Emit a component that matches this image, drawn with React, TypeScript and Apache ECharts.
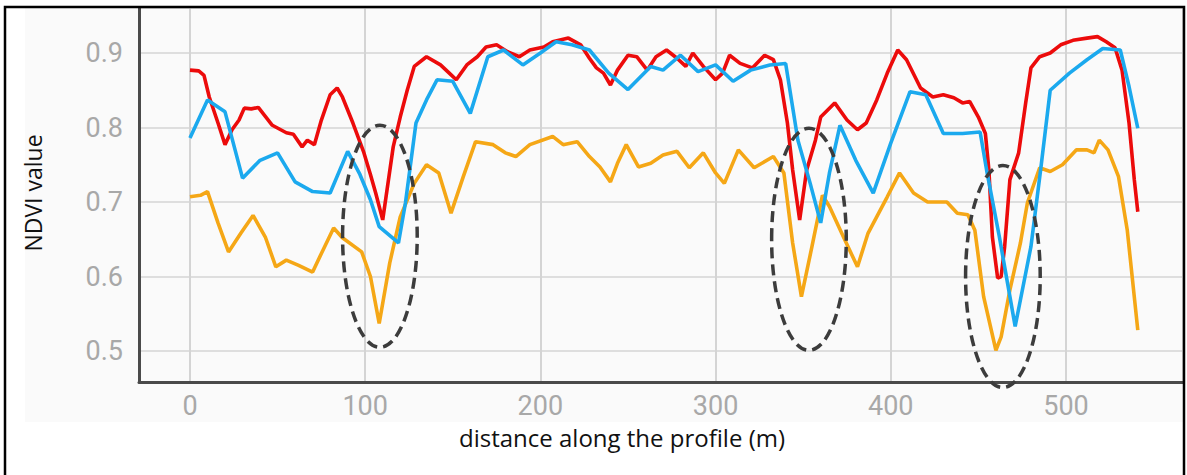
import React, { useEffect, useRef } from "react";
import * as echarts from "echarts";

// ---- data (distance in m, NDVI value) ----
const redDistance = [0, 5, 8, 11, 16, 20, 24, 28, 31, 35, 39, 43, 47, 51, 55, 59, 64, 67, 71, 75, 80, 84, 87, 93, 99, 103, 106, 110, 116, 120, 124, 128, 135, 143, 148, 152, 158, 164, 169, 175, 181, 188, 194, 202, 207, 216, 223, 228, 232, 236, 240, 244, 250, 255, 261, 266, 272, 278, 283, 287, 293, 300, 304, 308, 314, 321, 328, 333, 337, 341, 344, 348, 352, 357, 360, 368, 375, 381, 386, 392, 398, 404, 409, 417, 424, 430, 436, 441, 445, 450, 454, 456, 458, 461, 463, 465, 468, 473, 477, 480, 485, 491, 497, 504, 512, 518, 523, 528, 532, 536, 539, 541];
const redNdvi = [0.877, 0.876, 0.870, 0.841, 0.806, 0.777, 0.797, 0.810, 0.826, 0.825, 0.827, 0.815, 0.803, 0.798, 0.793, 0.791, 0.774, 0.783, 0.777, 0.810, 0.844, 0.853, 0.841, 0.806, 0.768, 0.737, 0.712, 0.676, 0.774, 0.814, 0.850, 0.882, 0.895, 0.884, 0.873, 0.864, 0.884, 0.895, 0.908, 0.911, 0.902, 0.895, 0.904, 0.908, 0.915, 0.920, 0.911, 0.893, 0.880, 0.873, 0.857, 0.877, 0.897, 0.895, 0.877, 0.895, 0.904, 0.893, 0.882, 0.900, 0.882, 0.864, 0.873, 0.897, 0.886, 0.880, 0.897, 0.891, 0.864, 0.806, 0.743, 0.676, 0.743, 0.783, 0.814, 0.833, 0.810, 0.797, 0.806, 0.837, 0.873, 0.904, 0.891, 0.853, 0.841, 0.844, 0.840, 0.833, 0.835, 0.814, 0.792, 0.743, 0.653, 0.598, 0.600, 0.640, 0.730, 0.766, 0.833, 0.880, 0.895, 0.900, 0.911, 0.917, 0.920, 0.922, 0.915, 0.907, 0.877, 0.806, 0.730, 0.687];

const blueDistance = [0, 10, 20, 30, 40, 50, 60, 70, 80, 90, 97, 103, 108, 119, 123, 129, 135, 141, 150, 160, 170, 179, 190, 200, 209, 218, 228, 239, 250, 263, 270, 280, 290, 300, 310, 320, 331, 340, 347, 354, 360, 365, 371, 380, 390, 400, 411, 420, 430, 441, 451, 455, 462, 471, 480, 486, 491, 502, 512, 521, 531, 536, 541];
const blueNdvi = [0.786, 0.837, 0.821, 0.732, 0.756, 0.766, 0.727, 0.714, 0.712, 0.768, 0.737, 0.703, 0.667, 0.645, 0.699, 0.806, 0.837, 0.864, 0.862, 0.819, 0.895, 0.904, 0.884, 0.900, 0.915, 0.911, 0.904, 0.873, 0.851, 0.882, 0.877, 0.897, 0.875, 0.884, 0.862, 0.877, 0.884, 0.886, 0.783, 0.725, 0.672, 0.739, 0.803, 0.756, 0.712, 0.779, 0.848, 0.844, 0.792, 0.792, 0.794, 0.739, 0.653, 0.533, 0.640, 0.752, 0.850, 0.873, 0.891, 0.906, 0.904, 0.855, 0.799];

const orangeDistance = [0, 6, 10, 16, 22, 29, 36, 43, 49, 55, 62, 70, 75, 82, 87, 98, 103, 108, 114, 120, 128, 135, 142, 149, 156, 163, 173, 180, 186, 194, 207, 213, 221, 228, 234, 240, 244, 249, 256, 263, 270, 278, 285, 293, 300, 305, 313, 322, 333, 339, 344, 349, 355, 361, 365, 373, 381, 387, 398, 405, 413, 421, 432, 438, 444, 448, 453, 460, 463, 468, 474, 478, 485, 491, 498, 506, 512, 516, 519, 524, 530, 535, 541];
const orangeNdvi = [0.707, 0.709, 0.714, 0.672, 0.633, 0.658, 0.682, 0.653, 0.613, 0.622, 0.615, 0.606, 0.631, 0.665, 0.652, 0.633, 0.600, 0.537, 0.618, 0.680, 0.725, 0.750, 0.739, 0.685, 0.734, 0.781, 0.777, 0.766, 0.761, 0.777, 0.788, 0.777, 0.781, 0.761, 0.747, 0.727, 0.752, 0.777, 0.747, 0.752, 0.763, 0.768, 0.746, 0.766, 0.739, 0.725, 0.770, 0.746, 0.761, 0.739, 0.645, 0.573, 0.640, 0.709, 0.694, 0.653, 0.613, 0.658, 0.707, 0.739, 0.712, 0.700, 0.700, 0.685, 0.683, 0.662, 0.573, 0.501, 0.519, 0.582, 0.645, 0.699, 0.746, 0.741, 0.750, 0.770, 0.770, 0.766, 0.783, 0.770, 0.734, 0.662, 0.528];

// highlighted dips: [center distance, center NDVI]
const dipCenters = [
  [108.4, 0.654],
  [353.3, 0.650],
  [464.0, 0.600],
];
const dipRadiusX = 21.3;
const dipRadiusY = 0.149;

const xTitle = "distance along the profile (m)";
const yTitle = "NDVI value";

const zip = (xs: number[], ys: number[]) => xs.map((x, i) => [x, ys[i]]);

export default function App() {
  const ref = useRef<HTMLDivElement>(null);
  useEffect(() => {
    if (!ref.current) return;
    const chart = echarts.init(ref.current, undefined, { renderer: "svg" });
    const tickFont = {
      color: "#a8a8a8",
      fontSize: 27,
      fontFamily: "Roboto",
    };
    const lineSeries = (name: string, color: string, data: number[][]) => ({
      name,
      type: "line",
      data,
      showSymbol: false,
      symbol: "none",
      lineStyle: { color, width: 3.6 },
      z: 3,
    });
    chart.setOption({
      animation: false,
      backgroundColor: "#ffffff",
      grid: { left: 139, top: 8, right: 4, bottom: 93, containLabel: false },
      xAxis: {
        type: "value",
        min: -29.1,
        max: 566.8,
        splitNumber: 5,
        axisLine: { show: true, onZero: false, lineStyle: { color: "#4a4a4a", width: 3 } },
        axisTick: { show: false },
        axisLabel: {
          ...tickFont,
          margin: 10,
          formatter: (v: number) => (Math.abs(v / 100 - Math.round(v / 100)) < 1e-6 ? String(Math.round(v)) : ""),
        },
        splitLine: { show: true, lineStyle: { color: "#d4d4d4", width: 2 } },
      },
      yAxis: {
        type: "value",
        min: 0.4584,
        max: 0.9604,
        splitNumber: 5,
        axisLine: { show: true, onZero: false, lineStyle: { color: "#4a4a4a", width: 3 } },
        axisTick: { show: false },
        axisLabel: {
          ...tickFont,
          margin: 16,
          formatter: (v: number) => (Math.abs(v * 10 - Math.round(v * 10)) < 1e-6 ? v.toFixed(1) : ""),
        },
        splitLine: { show: true, lineStyle: { color: "#dedede", width: 2 } },
      },
      series: [
        lineSeries("orange", "#f5a716", zip(orangeDistance, orangeNdvi)),
        lineSeries("red", "#ec0b0b", zip(redDistance, redNdvi)),
        lineSeries("blue", "#1ba9ee", zip(blueDistance, blueNdvi)),
      ],
    });

    const ellipses = dipCenters.map(([cx, cy]) => {
      const c = chart.convertToPixel({ gridIndex: 0 }, [cx, cy]) as number[];
      const e = chart.convertToPixel({ gridIndex: 0 }, [cx + dipRadiusX, cy + dipRadiusY]) as number[];
      return {
        type: "ellipse",
        z: 100,
        shape: { cx: c[0], cy: c[1], rx: Math.abs(e[0] - c[0]), ry: Math.abs(c[1] - e[1]) },
        style: { fill: "none", stroke: "#3c3c3c", lineWidth: 3.5, lineDash: [11, 6] },
      };
    });

    chart.setOption({
      graphic: [
        {
          type: "rect",
          z: -10,
          silent: true,
          shape: { x: 25, y: 8, width: 1158, height: 414 },
          style: { fill: "#fafafa" },
        },
        ...ellipses,
        {
          type: "text",
          z: 100,
          x: 622,
          y: 437,
          style: {
            text: xTitle,
            fill: "#111111",
            fontSize: 24,
            fontFamily: "Open Sans",
            align: "center",
            verticalAlign: "middle",
          },
        },
        {
          type: "text",
          z: 100,
          x: 33,
          y: 193,
          rotation: Math.PI / 2,
          style: {
            text: yTitle,
            fill: "#111111",
            fontSize: 23,
            fontFamily: "Open Sans",
            align: "center",
            verticalAlign: "middle",
          },
        },
        {
          type: "rect",
          z: 110,
          silent: true,
          shape: { x: 5, y: 7, width: 1179, height: 475 },
          style: { fill: "none", stroke: "#000000", lineWidth: 2.5 },
        },
      ],
    });
    return () => chart.dispose();
  }, []);
  return (
    <div
      ref={ref}
      style={{ position: "fixed", left: 0, top: 0, width: 1187, height: 475 }}
    />
  );
}
